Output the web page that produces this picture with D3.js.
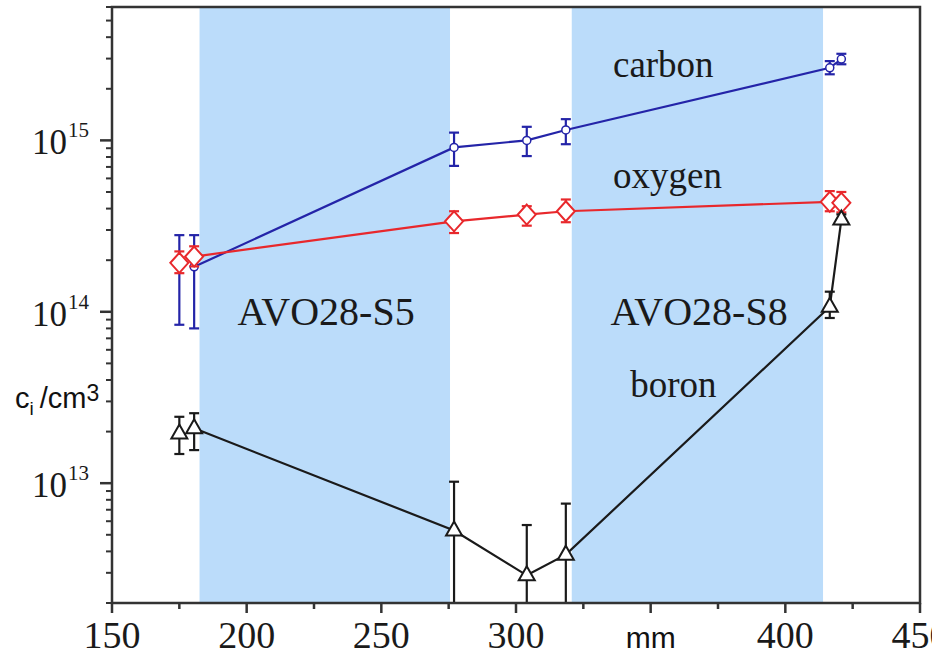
<!DOCTYPE html>
<html>
<head>
<meta charset="utf-8">
<script src="https://cdn.jsdelivr.net/npm/d3@7"></script>
<style>
  body { margin: 0; background: #fff; }
  svg { display: block; }
  .serif { font-family: "Liberation Serif", "Times New Roman", serif; fill: #1a1a1a; }
  .sans { font-family: "Liberation Sans", Arial, sans-serif; fill: #111; }
</style>
</head>
<body>
<script>
// positions along the crystal (mm)
var positions = [175, 180.5, 277, 304, 318.5, 416.5, 420.8];

// concentrations (1/cm3) with error bar ends
var carbon   = [1.85e14, 1.83e14, 9.1e14, 1.0e15, 1.15e15, 2.65e15, 2.98e15];
var carbonHi = [2.8e14, 2.8e14, 1.11e15, 1.2e15, 1.33e15, 2.9e15, 3.2e15];
var carbonLo = [8.4e13, 8.0e13, 7.1e14, 8.1e14, 9.5e14, 2.43e15, 2.78e15];

var oxygen   = [1.93e14, 2.1e14, 3.37e14, 3.69e14, 3.86e14, 4.38e14, 4.32e14];
var oxygenHi = [2.25e14, 2.41e14, 3.86e14, 4.13e14, 4.52e14, 5.06e14, 5.0e14];
var oxygenLo = [1.68e14, 1.84e14, 2.88e14, 3.18e14, 3.33e14, 3.86e14, 3.8e14];

var boron   = [1.95e13, 2.09e13, 5.3e12, 2.9e12, 3.83e12, 1.07e14, 3.45e14];
var boronHi = [2.44e13, 2.56e13, 1.02e13, 5.7e12, 7.6e12, 1.31e14, 3.7e14];
var boronLo = [1.48e13, 1.56e13, 1e12, 1e12, 1e12, 9.2e13, 3.25e14];

// crystal sections (mm)
var sections = ["AVO28-S5", "AVO28-S8"];
var sectionStart = [182.5, 320.7];
var sectionEnd = [275.5, 414];

var xTicks = [150, 200, 250, 300, 350, 400, 450];
var xTickLabels = ["150", "200", "250", "300", "", "400", "450"];
var yTicks = [1e13, 1e14, 1e15];
var yTickExp = ["13", "14", "15"];

var w = 932,
    h = 656;

var plotL = 112, plotR = 920, plotT = 7, plotB = 603;

var x = d3.scaleLinear().domain([150, 450]).range([plotL, plotR]);
var y = d3.scaleLog().domain([2e12, 6e15]).range([plotB, plotT]);

var svg = d3.select("body")
          .append("svg")
          .attr("width", w)
          .attr("height", h);

svg.append("defs").append("clipPath")
   .attr("id", "plot")
   .append("rect")
   .attr("x", plotL).attr("y", plotT)
   .attr("width", plotR - plotL).attr("height", plotB - plotT);

// shaded sections
svg.selectAll(".band")
   .data(sections)
   .enter().append("rect")
   .attr("class", "band")
   .attr("x", function(d, i) { return x(sectionStart[i]); })
   .attr("y", plotT)
   .attr("width", function(d, i) { return x(sectionEnd[i]) - x(sectionStart[i]); })
   .attr("height", plotB - plotT)
   .attr("fill", "#bbdcfa");

var plot = svg.append("g").attr("clip-path", "url(#plot)");

var series = [
  {name: "carbon", v: carbon, hi: carbonHi, lo: carbonLo, color: "#2424a8", marker: "circle"},
  {name: "oxygen", v: oxygen, hi: oxygenHi, lo: oxygenLo, color: "#e8282c", marker: "diamond"},
  {name: "boron",  v: boron,  hi: boronHi,  lo: boronLo,  color: "#1a1a1a", marker: "triangle"}
];

var line = d3.line()
          .x(function(d) { return x(d.p); })
          .y(function(d) { return y(d.v); });

series.forEach(function(s) {
  var pts = positions.map(function(p, i) {
    return {p: p, v: s.v[i], hi: s.hi[i], lo: s.lo[i]};
  });

  plot.append("path")
      .datum(pts.slice(1))
      .attr("d", line)
      .attr("fill", "none")
      .attr("stroke", s.color)
      .attr("stroke-width", 2.2);

  var g = plot.append("g")
      .attr("stroke", s.color)
      .attr("stroke-width", 2.2);

  // error bars
  pts.forEach(function(d) {
    var cx = x(d.p);
    g.append("line").attr("x1", cx).attr("x2", cx)
     .attr("y1", y(d.hi)).attr("y2", y(d.lo));
    g.append("line").attr("x1", cx - 5).attr("x2", cx + 5)
     .attr("y1", y(d.hi)).attr("y2", y(d.hi));
    g.append("line").attr("x1", cx - 5).attr("x2", cx + 5)
     .attr("y1", y(d.lo)).attr("y2", y(d.lo));
  });

  // markers
  pts.forEach(function(d) {
    var cx = x(d.p), cy = y(d.v);
    if (s.marker === "circle") {
      g.append("circle").attr("cx", cx).attr("cy", cy).attr("r", 4)
       .attr("fill", "#fff").attr("stroke-width", 1.5);
    } else if (s.marker === "diamond") {
      g.append("path")
       .attr("d", "M" + cx + "," + (cy - 10) + "L" + (cx + 9) + "," + cy +
                  "L" + cx + "," + (cy + 10) + "L" + (cx - 9) + "," + cy + "Z")
       .attr("fill", "#fff").attr("stroke-width", 2);
    } else {
      g.append("path")
       .attr("d", "M" + cx + "," + (cy - 9) + "L" + (cx + 8) + "," + (cy + 5) +
                  "L" + (cx - 8) + "," + (cy + 5) + "Z")
       .attr("fill", "#fff").attr("stroke-width", 2);
    }
  });
});

// frame
svg.append("rect")
   .attr("x", plotL).attr("y", plotT)
   .attr("width", plotR - plotL).attr("height", plotB - plotT)
   .attr("fill", "none")
   .attr("stroke", "#333")
   .attr("stroke-width", 2.5);

// x ticks
var xMinor = d3.range(175, 450, 50);
svg.selectAll(".xmaj").data(xTicks).enter().append("line")
   .attr("x1", function(d) { return x(d); }).attr("x2", function(d) { return x(d); })
   .attr("y1", plotB).attr("y2", plotB + 10)
   .attr("stroke", "#333").attr("stroke-width", 2.5);
svg.selectAll(".xmin").data(xMinor).enter().append("line")
   .attr("x1", function(d) { return x(d); }).attr("x2", function(d) { return x(d); })
   .attr("y1", plotB).attr("y2", plotB + 6)
   .attr("stroke", "#333").attr("stroke-width", 2.5);
svg.selectAll(".xlab").data(xTicks).enter().append("text")
   .attr("class", "serif")
   .attr("x", function(d) { return x(d); })
   .attr("y", 648)
   .attr("text-anchor", "middle")
   .attr("font-size", 38)
   .text(function(d, i) { return xTickLabels[i]; });

svg.append("text")
   .attr("class", "sans")
   .attr("x", x(350))
   .attr("y", 648)
   .attr("text-anchor", "middle")
   .attr("font-size", 30)
   .text("mm");

// y ticks
var yMinor = [];
[1e12, 1e13, 1e14, 1e15].forEach(function(dec) {
  for (var k = 2; k <= 9; k++) {
    var v = dec * k;
    if (v >= 2e12 && v <= 6e15) yMinor.push(v);
  }
});
svg.selectAll(".ymaj").data(yTicks).enter().append("line")
   .attr("x1", plotL - 12).attr("x2", plotL)
   .attr("y1", function(d) { return y(d); }).attr("y2", function(d) { return y(d); })
   .attr("stroke", "#333").attr("stroke-width", 2.5);
svg.selectAll(".ymin").data(yMinor).enter().append("line")
   .attr("x1", plotL - 6).attr("x2", plotL)
   .attr("y1", function(d) { return y(d); }).attr("y2", function(d) { return y(d); })
   .attr("stroke", "#333").attr("stroke-width", 2);

var ylab = svg.selectAll(".ylab").data(yTicks).enter().append("text")
   .attr("class", "serif")
   .attr("x", 32)
   .attr("y", function(d) { return y(d) + 14; })
   .attr("font-size", 35);
ylab.append("tspan").text("10");
ylab.append("tspan")
    .attr("font-size", 21)
    .attr("dy", -17)
    .attr("dx", 1)
    .text(function(d, i) { return yTickExp[i]; });

// y axis title
var ytitle = svg.append("text")
   .attr("class", "sans")
   .attr("x", 15)
   .attr("y", 408)
   .attr("font-size", 29);
ytitle.append("tspan").text("c");
ytitle.append("tspan").attr("font-size", 19).attr("dy", 7).text("i");
ytitle.append("tspan").attr("dy", -7).attr("dx", 6).text("/cm");
ytitle.append("tspan").attr("font-size", 23).attr("dy", -7).text("3");

// section labels
var secCenter = [229.5, 368];
svg.selectAll(".sec").data(sections).enter().append("text")
   .attr("class", "serif")
   .attr("x", function(d, i) { return x(secCenter[i]); })
   .attr("y", 325)
   .attr("text-anchor", "middle")
   .attr("font-size", 40)
   .text(function(d) { return d; });

// element labels
var names = series.map(function(s) { return s.name; });
var nameAt = [[336, 2.35e15], [336, 5.3e14], [342.4, 3.18e13]];
svg.selectAll(".name").data(names).enter().append("text")
   .attr("class", "serif")
   .attr("x", function(d, i) { return x(nameAt[i][0]); })
   .attr("y", function(d, i) { return y(nameAt[i][1]); })
   .attr("font-size", 37)
   .text(function(d) { return d; });
</script>
</body>
</html>
